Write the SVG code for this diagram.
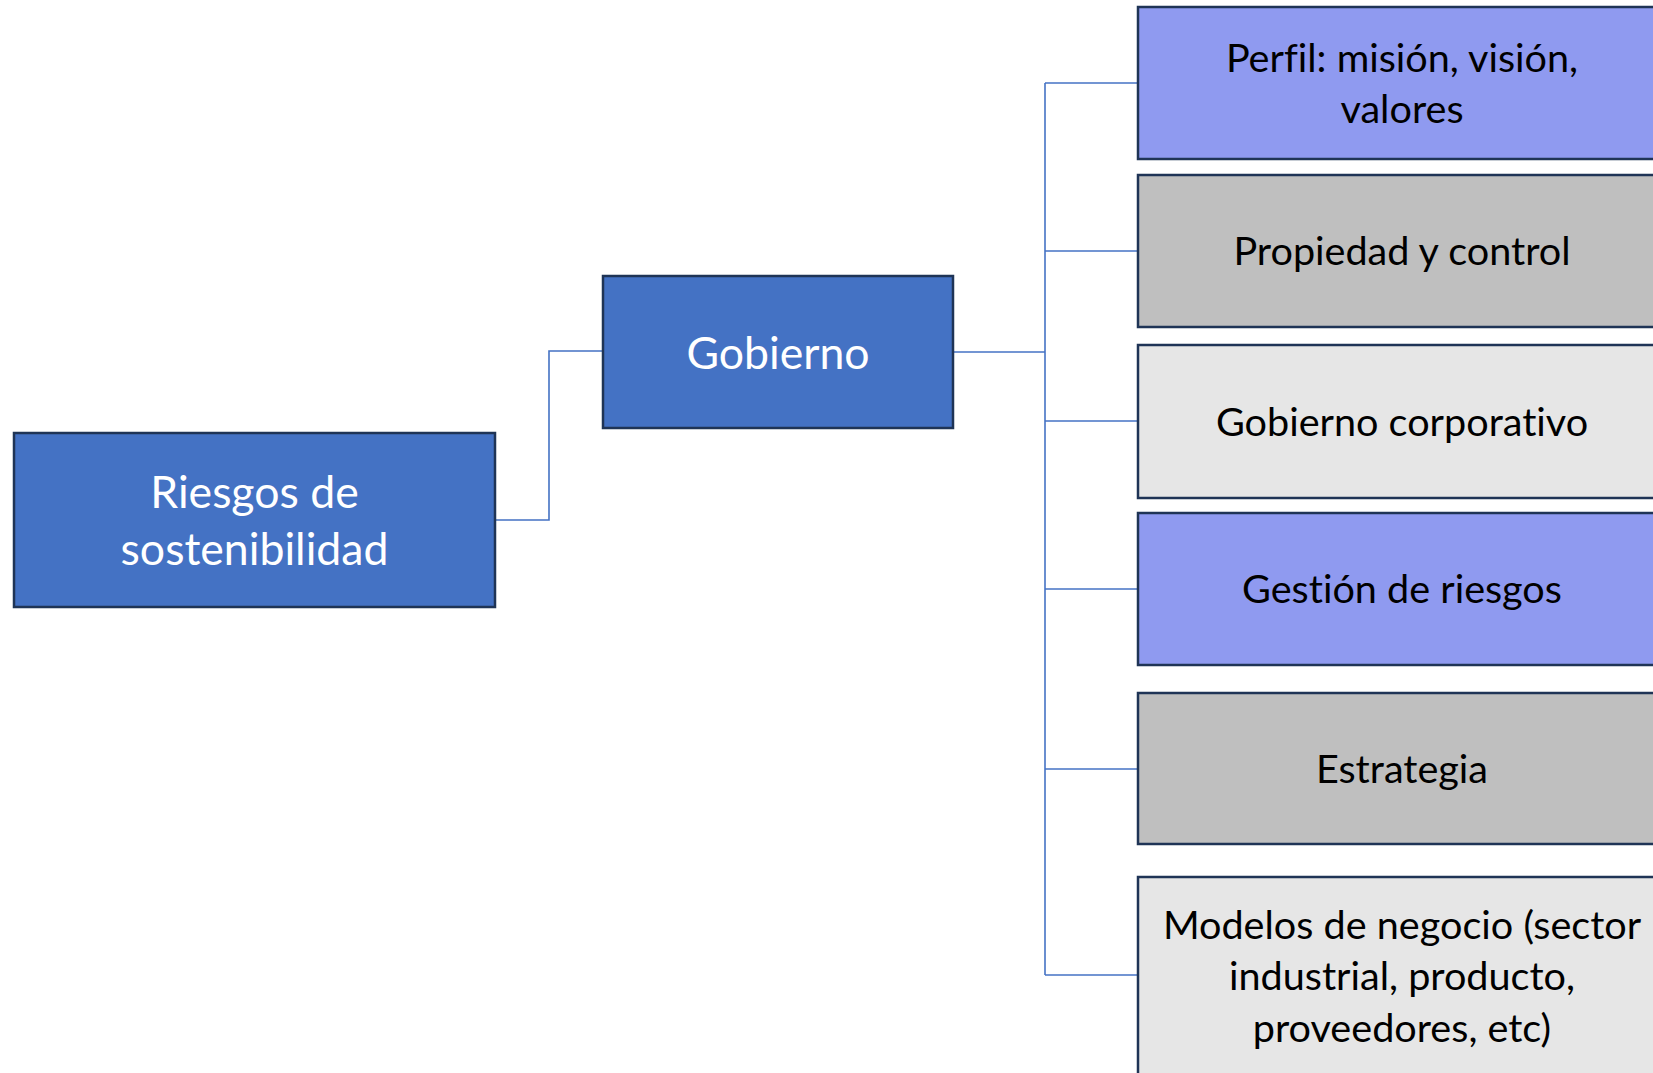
<svg xmlns="http://www.w3.org/2000/svg" width="1653" height="1073" viewBox="0 0 1653 1073">
<style>
.box{stroke:#1f3456;stroke-width:2.5}
.blue{fill:#4472c4}
.lav{fill:#8f9af0}
.grey{fill:#bfbfbf}
.light{fill:#e6e6e6}
.conn{fill:none;stroke:#4472c4;stroke-width:1.6}
text{font-variant-ligatures:none;font-feature-settings:"liga" 0,"dlig" 0,"clig" 0}
.tl{font-family:Lato,"Liberation Sans",sans-serif;font-size:44.6px;fill:#ffffff;text-anchor:middle}
.tr{font-family:Lato,"Liberation Sans",sans-serif;font-size:39.6px;fill:#000000;text-anchor:middle}
</style>
<rect width="1653" height="1073" fill="#ffffff"/>
<g id="connectors">
<polyline class="conn" points="495,520 549,520 549,351 603,351"/>
<line class="conn" x1="953" y1="352" x2="1045" y2="352"/>
<line class="conn" x1="1045" y1="83" x2="1045" y2="975"/>
<line class="conn" x1="1045" y1="83" x2="1138" y2="83"/>
<line class="conn" x1="1045" y1="251" x2="1138" y2="251"/>
<line class="conn" x1="1045" y1="421" x2="1138" y2="421"/>
<line class="conn" x1="1045" y1="589" x2="1138" y2="589"/>
<line class="conn" x1="1045" y1="769" x2="1138" y2="769"/>
<line class="conn" x1="1045" y1="975" x2="1138" y2="975"/>
</g>
<g id="riesgos">
<rect class="box blue" x="14" y="433" width="481" height="174"/>
<text class="tl" x="254.5" y="508">Riesgos de</text>
<text class="tl" x="254.5" y="565">sostenibilidad</text>
</g>
<g id="gobierno">
<rect class="box blue" x="603" y="276" width="350" height="152"/>
<text class="tl" x="778" y="369">Gobierno</text>
</g>
<g id="perfil">
<rect class="box lav" x="1138" y="7" width="530" height="152"/>
<text class="tr" x="1402" y="72">Perfil: misión, visión,</text>
<text class="tr" x="1402" y="123">valores</text>
</g>
<g id="propiedad">
<rect class="box grey" x="1138" y="175" width="530" height="152"/>
<text class="tr" x="1402" y="265">Propiedad y control</text>
</g>
<g id="gobierno-corporativo">
<rect class="box light" x="1138" y="345" width="530" height="153"/>
<text class="tr" x="1402" y="436">Gobierno corporativo</text>
</g>
<g id="gestion">
<rect class="box lav" x="1138" y="513" width="530" height="152"/>
<text class="tr" x="1402" y="603">Gestión de riesgos</text>
</g>
<g id="estrategia">
<rect class="box grey" x="1138" y="693" width="530" height="151"/>
<text class="tr" x="1402" y="783">Estrategia</text>
</g>
<g id="modelos">
<rect class="box light" x="1138" y="877" width="530" height="210"/>
<text class="tr" x="1402" y="939">Modelos de negocio (sector</text>
<text class="tr" x="1402" y="990">industrial, producto,</text>
<text class="tr" x="1402" y="1042">proveedores, etc)</text>
</g>
</svg>
